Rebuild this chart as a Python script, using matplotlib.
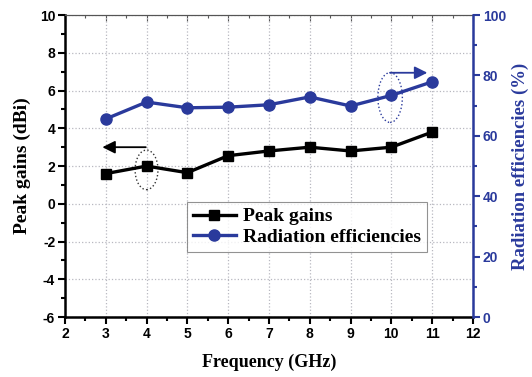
import matplotlib
matplotlib.use("Agg")
import matplotlib.pyplot as plt
from matplotlib.patches import Ellipse
from matplotlib.ticker import MultipleLocator

# --- Данные ---
freq_ghz = [3, 4, 5, 6, 7, 8, 9, 10, 11]
peak_gain_dbi = [1.6, 2.0, 1.65, 2.55, 2.8, 3.0, 2.8, 3.0, 3.8]
rad_eff_pct = [65.6, 71.2, 69.3, 69.5, 70.3, 72.9, 69.9, 73.4, 77.9]

BLUE = "#2a3a9c"
SERIF = ["Liberation Serif", "DejaVu Serif"]
SANS = ["Liberation Sans", "DejaVu Sans"]

plt.rcParams["font.family"] = SANS
plt.rcParams["font.weight"] = "bold"
plt.rcParams["axes.unicode_minus"] = False


def main():
    fig = plt.figure(figsize=(5.32, 3.77), dpi=100)
    ax = fig.add_axes([0.122, 0.159, 0.767, 0.801])
    ax2 = ax.twinx()

    # левая ось: пиковое усиление
    l1, = ax.plot(freq_ghz, peak_gain_dbi, color="black", lw=2.4,
                  marker="s", markersize=7, label="Peak gains")
    # правая ось: эффективность излучения
    l2, = ax2.plot(freq_ghz, rad_eff_pct, color=BLUE, lw=2.4,
                   marker="o", markersize=8, label="Radiation efficiencies")

    ax.set_xlim(2, 12)
    ax.set_ylim(-6, 10)
    ax2.set_ylim(0, 100)

    ax.xaxis.set_major_locator(MultipleLocator(1))
    ax.xaxis.set_minor_locator(MultipleLocator(0.5))
    ax.yaxis.set_major_locator(MultipleLocator(2))
    ax.yaxis.set_minor_locator(MultipleLocator(1))
    ax2.yaxis.set_major_locator(MultipleLocator(20))
    ax2.yaxis.set_minor_locator(MultipleLocator(10))

    ax.grid(True, which="major", linestyle=":", color="#b8b8c0", lw=0.9)
    ax.set_axisbelow(True)

    # рамка
    for side in ("left", "bottom"):
        ax.spines[side].set_linewidth(1.8)
        ax.spines[side].set_color("black")
    ax.spines["right"].set_visible(False)
    ax.spines["top"].set_linewidth(0.8)
    ax.spines["top"].set_color("#555555")
    ax2.spines["left"].set_visible(False)
    ax2.spines["bottom"].set_visible(False)
    ax2.spines["top"].set_visible(False)
    ax2.spines["right"].set_linewidth(1.8)
    ax2.spines["right"].set_color(BLUE)

    ax.tick_params(which="major", direction="out", length=5, width=1.5,
                   labelsize=10, pad=2)
    ax.tick_params(which="minor", direction="out", length=3, width=1.5)
    ax2.tick_params(which="major", direction="out", length=5, width=1.5,
                    colors=BLUE, labelsize=10, pad=2)
    ax2.tick_params(which="minor", direction="out", length=3, width=1.5,
                    colors=BLUE)

    # верхние засечки внутрь
    top = ax.secondary_xaxis("top")
    top.xaxis.set_major_locator(MultipleLocator(1))
    top.xaxis.set_minor_locator(MultipleLocator(0.5))
    top.tick_params(which="major", direction="in", length=4, width=0.8,
                    labeltop=False, color="#555555")
    top.tick_params(which="minor", direction="in", length=2, width=0.8,
                    color="#555555")
    top.spines["top"].set_linewidth(0.8)
    top.spines["top"].set_color("#555555")

    ax.set_xlabel("Frequency (GHz)", fontsize=13, fontweight="bold",
                  family=SERIF, labelpad=9)
    ax.set_ylabel("Peak gains (dBi)", fontsize=14, fontweight="bold",
                  family=SERIF, labelpad=6)
    ax2.set_ylabel("Radiation efficiencies (%)", fontsize=13.5,
                   fontweight="bold", family=SERIF, color=BLUE,
                   rotation=90, labelpad=4)

    # стрелки и пунктирные овалы
    ax.annotate("", xy=(2.85, 3.0), xytext=(4.05, 3.0),
                arrowprops=dict(arrowstyle="-|>", color="black", lw=1.3,
                                mutation_scale=19))
    ax2.annotate("", xy=(10.95, 80.9), xytext=(9.9, 80.9),
                 arrowprops=dict(arrowstyle="-|>", color=BLUE, lw=1.3,
                                 mutation_scale=19))
    ax.add_patch(Ellipse((4.0, 1.8), 0.56, 2.1, fill=False,
                         linestyle=":", lw=1.0, color="#333333"))
    ax2.add_patch(Ellipse((9.97, 72.7), 0.6, 16.5, fill=False,
                          linestyle=":", lw=1.0, color=BLUE))

    leg = ax2.legend([l1, l2], ["Peak gains", "Radiation efficiencies"],
                     loc="upper left", bbox_to_anchor=(0.299, 0.381),
                     prop=dict(family=SERIF, weight="bold", size=14),
                     frameon=True, fancybox=False, handlelength=2.2,
                     borderpad=0.3, labelspacing=0.15, handletextpad=0.4,
                     borderaxespad=0)
    leg.get_frame().set_edgecolor("#777777")
    leg.get_frame().set_linewidth(0.8)

    fig.savefig("out.png", dpi=100)
    plt.close(fig)


if __name__ == "__main__":
    main()
